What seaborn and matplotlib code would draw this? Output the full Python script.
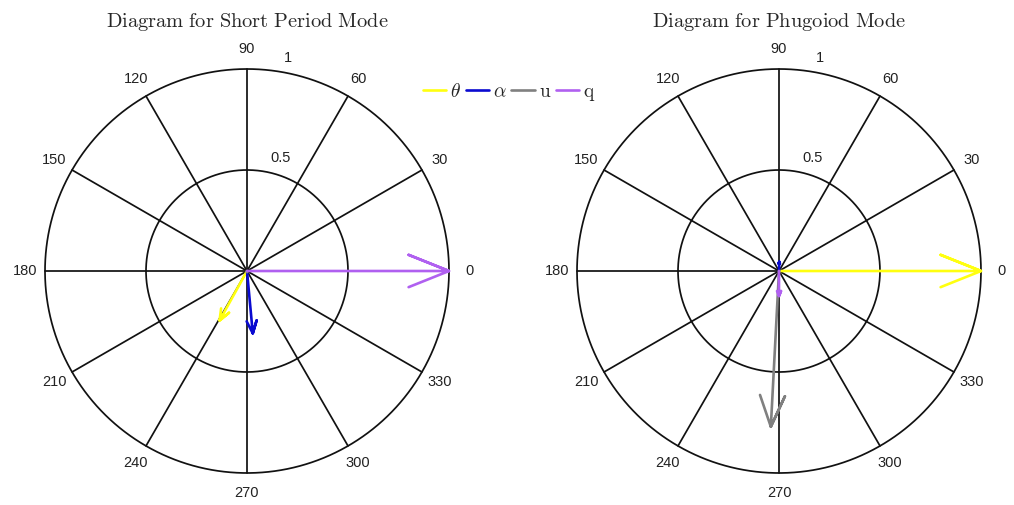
import numpy as np
import pandas as pd
import matplotlib
matplotlib.use("Agg")
import matplotlib.pyplot as plt
import seaborn as sns
from matplotlib.lines import Line2D

sns.set_style("white")
plt.rcParams["font.family"] = ["Liberation Sans", "DejaVu Sans"]
plt.rcParams["mathtext.fontset"] = "cm"

# ---- data ----
variables = ["theta", "alpha", "u", "q"]
legend_labels = [r"$\theta$", r"$\alpha$", r"$\mathrm{u}$", r"$\mathrm{q}$"]
colors = ["#FFFF10", "#0a0ad0", "#808080", "#B060F0"]

short_mag = [0.28, 0.31, 0.005, 1.0]
short_ang = [241.0, 275.3, 270.0, 0.0]

phug_mag = [1.0, 0.046, 0.772, 0.124]
phug_ang = [0.0, 88.0, 267.0, 270.0]

titles = ["Diagram for Short Period Mode", "Diagram for Phugoiod Mode"]
angle_ticks = list(range(0, 360, 30))
radial_ticks = [0.5, 1.0]
radial_labels = ["0.5", "1"]

fig = plt.figure(figsize=(10.14, 5.05), dpi=100)
W, H = 1014, 505
R = 202
centers = [(247, 271), (779, 271)]


def arrow_frame(mags, angs):
    a = np.array([0, 1, 0.8, 1, 0.8])
    b = np.array([0, 0, 0.08, 0, -0.08])
    rows = []
    for v, m, ang in zip(variables, mags, angs):
        z = m * np.exp(1j * np.deg2rad(ang))
        pts = (a + 1j * b) * z
        for k, p in enumerate(pts):
            rows.append({"var": v, "order": k, "x": p.real, "y": p.imag})
    return pd.DataFrame(rows)


for i, (mags, angs) in enumerate([(short_mag, short_ang), (phug_mag, phug_ang)]):
    cx, cy = centers[i]
    ax = fig.add_axes([(cx - R) / W, (H - cy - R) / H, 2 * R / W, 2 * R / H])
    ax.set_xlim(-1, 1)
    ax.set_ylim(-1, 1)
    ax.set_axis_off()

    # grid
    t = np.linspace(0, 2 * np.pi, 400)
    for r in radial_ticks:
        ax.plot(r * np.cos(t), r * np.sin(t), color="#111111", lw=1.25, clip_on=False, zorder=1)
    for ang in angle_ticks:
        th = np.deg2rad(ang)
        ax.plot([0, np.cos(th)], [0, np.sin(th)], color="#111111", lw=1.25, clip_on=False, zorder=1)
        ax.text(1.1 * np.cos(th), 1.1 * np.sin(th), str(ang), ha="center", va="center",
                fontsize=10.5, color="#222222")
    c82, s82 = np.cos(np.deg2rad(82)), np.sin(np.deg2rad(82))
    for r, lab in zip(radial_ticks, radial_labels):
        ax.annotate(lab, xy=((r + 0.025) * c82, (r + 0.025) * s82), xytext=(6, 1),
                    textcoords="offset points", ha="left", va="bottom", fontsize=10.5,
                    color="#222222", annotation_clip=False)

    df = arrow_frame(mags, angs)
    sns.lineplot(data=df, x="x", y="y", hue="var", hue_order=variables,
                 palette=dict(zip(variables, colors)), sort=False, estimator=None,
                 units="var", lw=1.9, ax=ax, legend=False, zorder=3)
    for ln in ax.lines:
        ln.set_clip_on(False)
    ax.set_xlim(-1, 1)
    ax.set_ylim(-1, 1)

    fig.text(cx / W, 1 - 22 / H, r"$\mathrm{" + titles[i].replace(" ", r"\ ") + "}$",
             ha="center", va="center", fontsize=14.7)

handles = [Line2D([], [], color=c, lw=1.9) for c in colors]
fig.legend(handles, legend_labels, loc="center", bbox_to_anchor=(509 / W, 1 - 93 / H),
           ncol=4, frameon=False, handlelength=1.2, handletextpad=0.2,
           columnspacing=0.25, fontsize=14)

fig.savefig("out.png", dpi=100)
